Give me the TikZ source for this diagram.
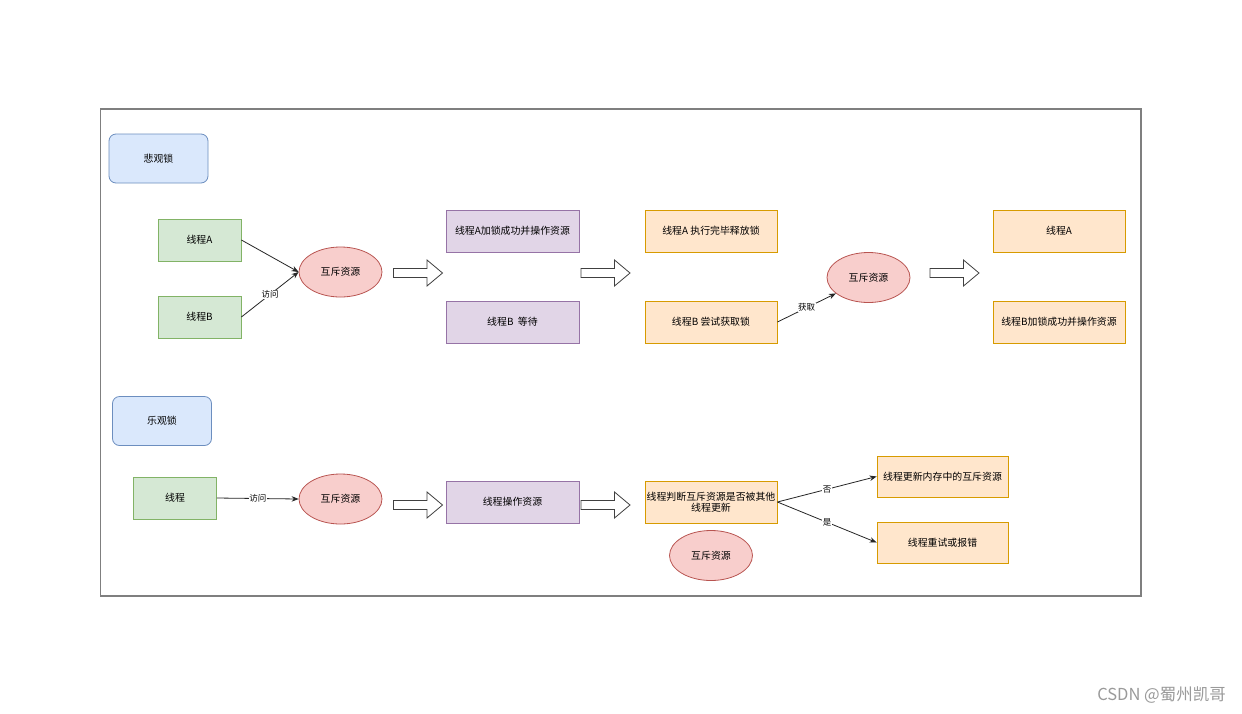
\documentclass[tikz,border=0pt]{standalone}
\usepackage{fontspec}
\setmainfont{Noto Sans CJK SC}
\usetikzlibrary{arrows.meta,shapes.geometric}
\definecolor{bfill}{HTML}{DAE8FC}\definecolor{bline}{HTML}{6C8EBF}
\definecolor{gfill}{HTML}{D5E8D4}\definecolor{gline}{HTML}{82B366}
\definecolor{rfill}{HTML}{F8CECC}\definecolor{rline}{HTML}{B85450}
\definecolor{pfill}{HTML}{E1D5E7}\definecolor{pline}{HTML}{9673A6}
\definecolor{ofill}{HTML}{FFE6CC}\definecolor{oline}{HTML}{D79B00}
\definecolor{frame}{HTML}{7F7F7F}
\definecolor{wm}{HTML}{9A9A9A}
\tikzset{
  txt/.style={font=\fontsize{9.9}{11.5}\selectfont, align=center},
  box/.style={txt, draw, rectangle, line width=0.8pt, inner sep=1pt},
  titlebox/.style={box, rounded corners=7pt, fill=bfill, draw=bline, minimum width=99pt, minimum height=49pt},
  gbox/.style={box, fill=gfill, draw=gline, minimum width=83pt, minimum height=42pt},
  pbox/.style={box, fill=pfill, draw=pline, minimum width=133pt, minimum height=42pt},
  obox/.style={box, fill=ofill, draw=oline, minimum width=132pt, minimum height=42pt},
  res/.style={txt, ellipse, draw=rline, fill=rfill, line width=0.8pt, minimum width=83pt, minimum height=50pt, inner sep=0pt},
  conn/.style={draw=black!85, line width=0.8pt, -{Stealth[length=7pt,width=5.5pt]}},
  lbl/.style={font=\fontsize{8.5}{9.5}\selectfont, fill=white, inner sep=0.5pt},
  barrow/.pic={\draw[line width=0.8pt, draw=black!75, fill=white] (-24.5,-4.5) -- (9,-4.5) -- (9,-13) -- (24.5,0) -- (9,13) -- (9,4.5) -- (-24.5,4.5) -- cycle;}
}
\begin{document}
\begin{tikzpicture}[x=1pt,y=-1pt]
\useasboundingbox (0,0) rectangle (1242,713);
\fill[white] (0,0) rectangle (1242,713);
\draw[frame, line width=1.1pt] (100.5,109) rectangle (1141,596);

% pessimistic lock
\node[titlebox] (pess) at (158.5,158.5) {悲观锁};
\node[gbox] (ta) at (199.5,240) {线程A};
\node[gbox] (tb) at (199.5,317) {线程B};
\node[res] (r1) at (340.5,272) {互斥资源};
\draw[conn] (ta.east) -- (r1.west);
\draw[conn] (tb.east) -- node[lbl] {访问} (r1.west);
\pic at (418,273) {barrow};
\node[pbox] (pa) at (512.5,231) {线程A加锁成功并操作资源};
\node[pbox] (pb) at (512.5,322) {线程B\ \ 等待};
\pic at (605.5,273) {barrow};
\node[obox] (oa) at (711,231) {线程A 执行完毕释放锁};
\node[obox] (ob) at (711,322) {线程B 尝试获取锁};
\node[res] (r2) at (868.5,277.5) {互斥资源};
\draw[conn] (ob.east) -- node[lbl] {获取} (r2);
\pic at (954.5,273) {barrow};
\node[obox] (fa) at (1059,231) {线程A};
\node[obox] (fb) at (1059,322) {线程B加锁成功并操作资源};

% optimistic lock
\node[titlebox] (opt) at (162,421) {乐观锁};
\node[gbox] (t) at (175,498) {线程};
\node[res] (r3) at (340.5,499) {互斥资源};
\draw[conn] (t.east) -- node[lbl] {访问} (r3.west);
\pic at (418,505) {barrow};
\node[pbox] (op) at (512.5,502) {线程操作资源};
\pic at (605.5,505) {barrow};
\node[obox, inner sep=0pt] (jd) at (711,502) {线程判断互斥资源是否被其他\\线程更新};
\node[res] (r4) at (711,555.5) {互斥资源};
\node[obox, minimum width=131pt, minimum height=41pt] (up) at (942.5,476.5) {线程更新内存中的互斥资源};
\node[obox, minimum width=131pt, minimum height=41pt] (rt) at (942.5,542.5) {线程重试或报错};
\draw[conn] (jd.east) -- node[lbl] {否} (up.west);
\draw[conn] (jd.east) -- node[lbl] {是} (rt.west);

\node[text=wm, font=\fontsize{16.5}{18}\selectfont, anchor=east, inner sep=0pt] (wmk) at (1226,695) {CSDN @蜀州凯哥};
\end{tikzpicture}
\end{document}
